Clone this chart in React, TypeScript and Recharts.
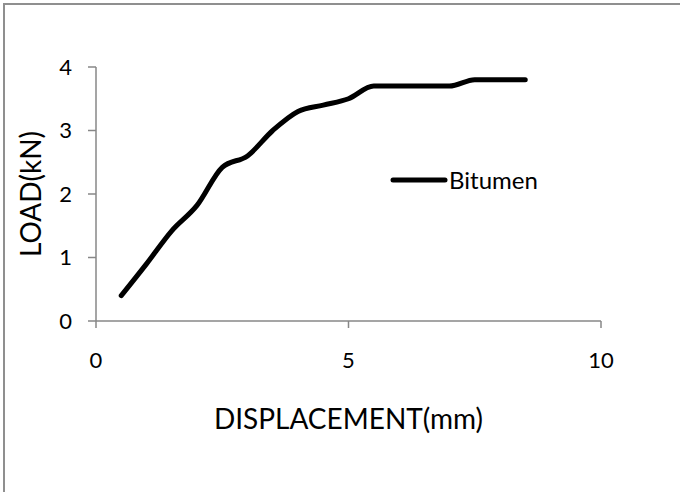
import React from 'react';
import { LineChart, Line, XAxis, YAxis } from 'recharts';

const displacement = [0.5, 1, 1.5, 2, 2.5, 3, 3.5, 4, 4.5, 5, 5.5, 6, 6.5, 7, 7.5, 8, 8.5];
const load = [0.4, 0.9, 1.42, 1.82, 2.42, 2.6, 3.0, 3.3, 3.4, 3.5, 3.7, 3.7, 3.7, 3.7, 3.8, 3.8, 3.8];
const xTicks = [0, 5, 10];
const yTicks = [0, 1, 2, 3, 4];
const seriesName = 'Bitumen';
const xTitle = 'DISPLACEMENT(mm)';
const yTitle = 'LOAD(kN)';

const data = displacement.map((d, i) => ({ x: d, y: load[i] }));

const FONT = 'Lato, "Open Sans", sans-serif';
const AXIS = '#878787';

export default function App() {
  return (
    <div style={{ position: 'fixed', left: 0, top: 0, width: 680, height: 492, background: '#fff', overflow: 'hidden' }}>
      <div style={{ position: 'absolute', left: 3, top: 3, width: 800, height: 800, borderLeft: '2px solid #8f8f8f', borderTop: '2px solid #8f8f8f' }} />
      <div style={{ position: 'absolute', left: 0, top: 0 }}>
        <LineChart width={680} height={492} data={data} margin={{ top: 67, right: 79, bottom: 71, left: 36 }}>
          <XAxis
            dataKey="x"
            type="number"
            domain={[0, 10]}
            ticks={xTicks}
            height={100}
            stroke={AXIS}
            strokeWidth={1.5}
            tickSize={7}
            tickMargin={24}
            tick={{ fill: '#000', fontFamily: FONT, fontSize: 22 }}
            label={{
              content: (p: any) => {
                const vb = p.viewBox;
                return (
                  <text x={vb.x + vb.width / 2} y={vb.y + 97} textAnchor="middle" dominantBaseline="central" fontFamily={FONT} fontSize={28} fill="#000">
                    {xTitle}
                  </text>
                );
              },
            }}
          />
          <YAxis
            type="number"
            domain={[0, 4]}
            ticks={yTicks}
            width={60}
            stroke={AXIS}
            strokeWidth={1.5}
            tickSize={8}
            tickMargin={16}
            tick={{ fill: '#000', fontFamily: FONT, fontSize: 22 }}
            label={{
              content: (p: any) => {
                const vb = p.viewBox;
                const cx = vb.x - 6;
                const cy = vb.y + vb.height / 2;
                return (
                  <text x={cx} y={cy} transform={`rotate(-90, ${cx}, ${cy})`} textAnchor="middle" dominantBaseline="central" fontFamily={FONT} fontSize={28} fill="#000">
                    {yTitle}
                  </text>
                );
              },
            }}
          />
          <Line
            type="monotone"
            dataKey="y"
            name={seriesName}
            stroke="#000"
            strokeWidth={5}
            strokeLinecap="round"
            dot={false}
            activeDot={false}
            isAnimationActive={false}
          />
        </LineChart>
      </div>
      <div style={{ position: 'absolute', left: 390, top: 165, display: 'flex', alignItems: 'center', fontFamily: FONT, fontSize: 24, color: '#000' }}>
        <svg width={58} height={10}>
          <line x1={3} y1={5} x2={55} y2={5} stroke="#000" strokeWidth={5} strokeLinecap="round" />
        </svg>
        <span style={{ marginLeft: 1, lineHeight: '30px' }}>{seriesName}</span>
      </div>
    </div>
  );
}
